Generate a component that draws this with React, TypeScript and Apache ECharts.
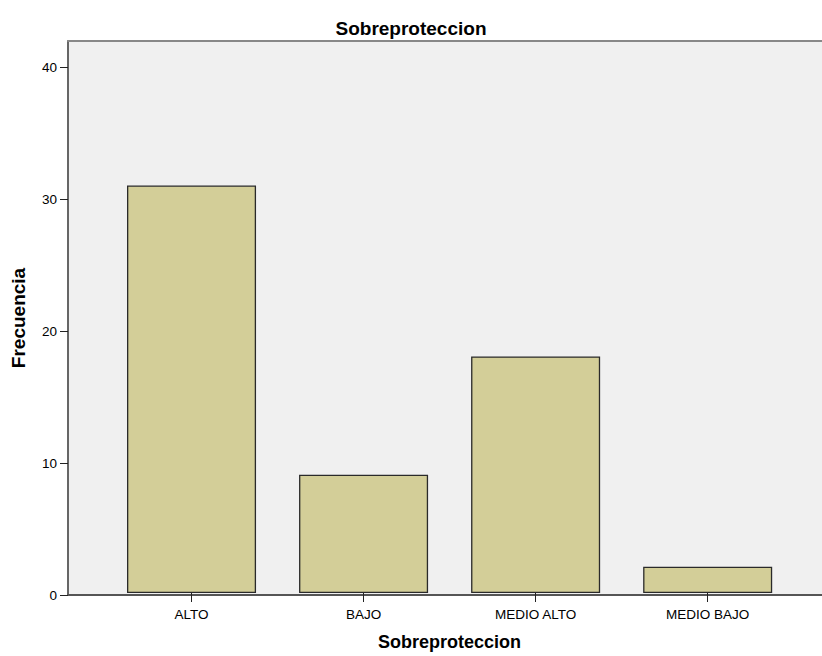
import React, { useEffect, useRef } from "react";
import * as echarts from "echarts";

const categories = ["ALTO", "BAJO", "MEDIO ALTO", "MEDIO BAJO"];
const frequencies = [31, 9, 18, 2];
const yTicks = [0, 10, 20, 30, 40];
const chartTitle = "Sobreproteccion";
const xName = "Sobreproteccion";
const yName = "Frecuencia";

export default function App() {
  const ref = useRef<HTMLDivElement>(null);
  useEffect(() => {
    document.body.style.margin = "0";
    if (!ref.current) return;
    const chart = echarts.init(ref.current, undefined, { renderer: "svg" });
    const font = "'Liberation Sans', Arial, sans-serif";
    const top = 41;
    const bottom = 61;
    chart.setOption({
      animation: false,
      backgroundColor: "#ffffff",
      title: {
        text: chartTitle,
        left: "center",
        top: 14,
        textStyle: { fontFamily: font, fontSize: 19, fontWeight: "bold", color: "#000" },
      },
      grid: [
        { left: 68, right: 0, top, bottom, show: true, backgroundColor: "#f0f0f0", borderWidth: 0 },
        { left: 105.5, right: 28.3, top, bottom },
      ],
      xAxis: [
        {
          type: "value",
          gridIndex: 0,
          min: 0,
          max: 1,
          position: "bottom",
          axisLine: { show: true, lineStyle: { color: "#555", width: 2 } },
          axisTick: { show: false },
          axisLabel: { show: false },
          splitLine: { show: false },
        },
        {
          type: "value",
          gridIndex: 0,
          min: 0,
          max: 1,
          position: "top",
          axisLine: { show: true, lineStyle: { color: "#888", width: 2 } },
          axisTick: { show: false },
          axisLabel: { show: false },
          splitLine: { show: false },
        },
        {
          type: "category",
          gridIndex: 1,
          data: categories,
          name: xName,
          nameLocation: "middle",
          nameGap: 40,
          nameTextStyle: { fontFamily: font, fontSize: 18, fontWeight: "bold", color: "#000" },
          axisLine: { show: false },
          axisTick: { show: true, alignWithLabel: true, length: 9, lineStyle: { color: "#222", width: 1 } },
          axisLabel: { fontFamily: font, fontSize: 13.5, color: "#000", margin: 14 },
          splitLine: { show: false },
        },
      ],
      yAxis: [
        {
          type: "value",
          gridIndex: 0,
          min: 0,
          max: 42,
          interval: 10,
          name: yName,
          nameLocation: "middle",
          nameGap: 40,
          nameRotate: 90,
          nameTextStyle: { fontFamily: font, fontSize: 19, fontWeight: "bold", color: "#000" },
          axisLine: { show: true, lineStyle: { color: "#666", width: 2 } },
          axisTick: { show: true, length: 8, customValues: yTicks, lineStyle: { color: "#222", width: 1 } },
          axisLabel: {
            fontFamily: font,
            fontSize: 13.5,
            color: "#000",
            margin: 11,
            customValues: yTicks,
            formatter: (v: number) => (yTicks.includes(v) ? String(v) : ""),
          },
          splitLine: { show: false },
        },
        {
          type: "value",
          gridIndex: 1,
          min: 0,
          max: 42,
          interval: 10,
          show: false,
        },
      ],
      series: [
        {
          type: "bar",
          xAxisIndex: 2,
          yAxisIndex: 1,
          data: frequencies,
          barWidth: "75%",
          itemStyle: { color: "#d3ce98", borderColor: "#2a2a2a", borderWidth: 1.3 },
        },
      ],
    });
    return () => chart.dispose();
  }, []);
  return <div ref={ref} style={{ width: 822, height: 656 }} />;
}
